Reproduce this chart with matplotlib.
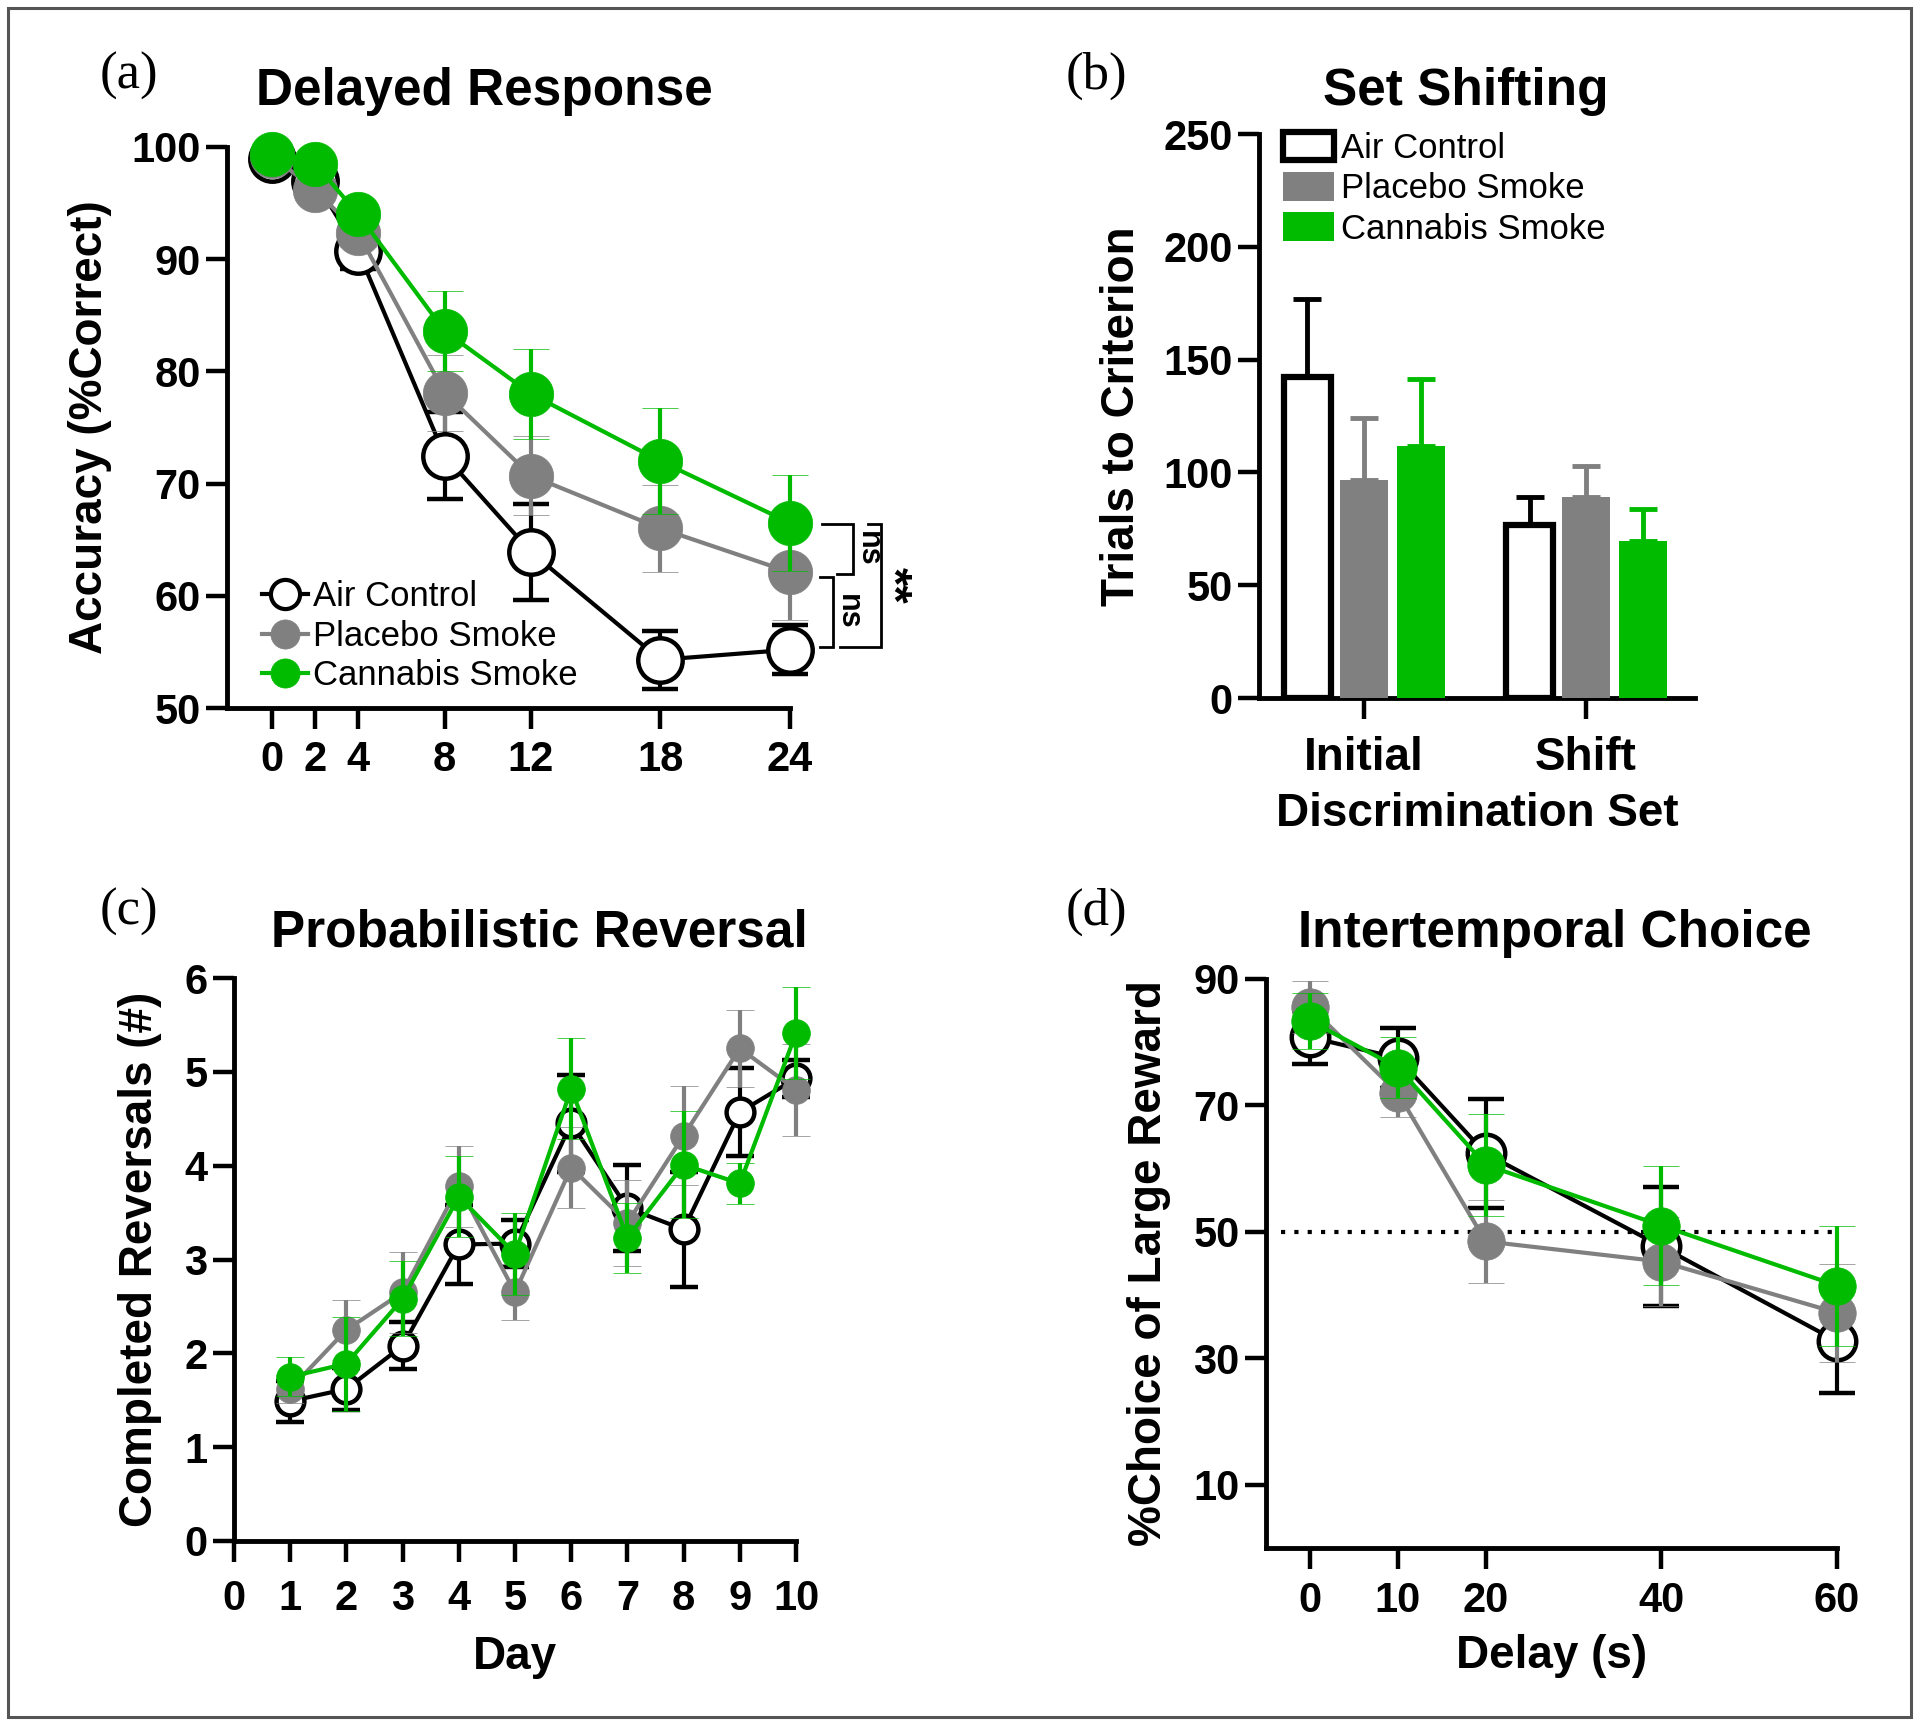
import numpy as np
import matplotlib
matplotlib.use("Agg")
import matplotlib.pyplot as plt
from matplotlib.patches import Rectangle
from matplotlib.lines import Line2D

plt.rcParams['font.family'] = ['Liberation Sans', 'DejaVu Sans']
plt.rcParams['font.weight'] = 'bold'

# ---------------- data ----------------
groups = ["Air Control", "Placebo Smoke", "Cannabis Smoke"]
BLACK = "#000000"
GREY = "#808080"
GREEN = "#00BB00"

# (a) Delayed Response
hours = [0, 2, 4, 8, 12, 18, 24]
air_a = [98.9, 97.0, 90.7, 72.5, 63.9, 54.3, 55.2]
air_a_err = [0.8, 1.0, 1.6, 3.9, 4.3, 2.6, 2.2]
plac_a = [99.2, 96.2, 92.3, 78.1, 70.7, 66.0, 62.1]
plac_a_err = [0.6, 1.0, 1.2, 3.4, 3.5, 3.9, 4.3]
cann_a = [99.4, 98.5, 94.0, 83.6, 78.0, 72.0, 66.5]
cann_a_err = [0.5, 0.8, 1.0, 3.6, 4.0, 4.7, 4.3]
a_xticks = [0, 2, 4, 8, 12, 18, 24]
a_yticks = [50, 60, 70, 80, 90, 100]
# significance brackets: (x_vertical, y_top, y_bottom, x_left_top, x_left_bottom, text, text_x)
brackets = [
    (26.9, 66.4, 61.9, 25.5, 26.2, "ns", 27.6),
    (26.0, 61.7, 55.4, 25.4, 25.4, "ns", 26.7),
    (28.2, 66.4, 55.4, 27.6, 26.3, "**", 28.7),
]

# (b) Set Shifting
sets = ["Initial", "Shift"]
air_b = [142.3, 76.8]
air_b_err = [34.5, 12.2]
plac_b = [96.8, 89.3]
plac_b_err = [27.2, 13.4]
cann_b = [111.9, 69.8]
cann_b_err = [29.4, 13.9]
b_yticks = [0, 50, 100, 150, 200, 250]

# (c) Probabilistic Reversal
days = [1, 2, 3, 4, 5, 6, 7, 8, 9, 10]
air_c = [1.49, 1.62, 2.08, 3.16, 3.17, 4.45, 3.55, 3.32, 4.57, 4.93]
air_c_err = [0.22, 0.22, 0.25, 0.42, 0.25, 0.52, 0.46, 0.61, 0.47, 0.2]
plac_c = [1.62, 2.25, 2.65, 3.78, 2.65, 3.98, 3.39, 4.32, 5.25, 4.81]
plac_c_err = [0.15, 0.32, 0.43, 0.43, 0.30, 0.43, 0.46, 0.53, 0.41, 0.49]
cann_c = [1.75, 1.89, 2.58, 3.67, 3.06, 4.82, 3.23, 4.01, 3.81, 5.41]
cann_c_err = [0.21, 0.50, 0.40, 0.43, 0.44, 0.54, 0.37, 0.57, 0.22, 0.49]
c_xticks = list(range(0, 11))
c_yticks = [0, 1, 2, 3, 4, 5, 6]

# (d) Intertemporal Choice
delays = [0, 10, 20, 40, 60]
air_d = [80.8, 77.5, 62.4, 47.7, 32.7]
air_d_err = [4.2, 4.8, 8.6, 9.4, 8.2]
plac_d = [85.6, 72.0, 48.5, 45.3, 37.2]
plac_d_err = [4.1, 3.9, 6.6, 7.0, 7.8]
cann_d = [83.4, 76.0, 60.6, 51.0, 41.5]
cann_d_err = [4.4, 4.9, 8.1, 9.4, 9.5]
d_xticks = [0, 10, 20, 40, 60]
d_yticks = [10, 30, 50, 70, 90]
chance_level = 50

# ---------------- style ----------------
TICK_FS = 30
LABEL_FS = 33
TITLE_FS = 37
LEG_FS = 25
SPINE_LW = 3.5

fig = plt.figure(figsize=(19.2, 17.28), dpi=100)
W, H = 1920.0, 1728.0


def add_axes_px(left, right, top, bottom):
    return fig.add_axes([left / W, 1 - bottom / H, (right - left) / W, (bottom - top) / H])


def style_axes(ax):
    for s in ("top", "right"):
        ax.spines[s].set_visible(False)
    for s in ("left", "bottom"):
        ax.spines[s].set_linewidth(SPINE_LW)
        ax.spines[s].set_capstyle("projecting")
    ax.tick_params(axis="both", which="major", length=15, width=3.2,
                   labelsize=TICK_FS, direction="out")
    for lab in ax.get_xticklabels() + ax.get_yticklabels():
        lab.set_fontweight("bold")


def line_series(ax, x, y, err, color, face, ms, lw, cap, z, label):
    ax.errorbar(x, y, yerr=err, fmt="-o", color=color, ecolor=color,
                markerfacecolor=face, markeredgecolor=color, markersize=ms,
                markeredgewidth=3.2 if face == "white" else 0.5,
                linewidth=lw, elinewidth=3, capsize=cap, capthick=3,
                zorder=z, label=label, clip_on=False)


# ---------------- (a) ----------------
axa = add_axes_px(227, 790, 147, 708)
series_a = [(air_a, air_a_err, BLACK, "white"),
            (plac_a, plac_a_err, GREY, GREY),
            (cann_a, cann_a_err, GREEN, GREEN)]
for i, (y, e, c, f) in enumerate(series_a):
    line_series(axa, hours, y, e, c, f, 32, 3, 13, 3 + i, groups[i])
axa.set_xlim(-2.08, 24)
axa.set_ylim(50, 100)
axa.set_xticks(a_xticks)
axa.set_yticks(a_yticks)
style_axes(axa)
axa.tick_params(axis="x", pad=8)
axa.tick_params(axis="y", pad=4)
axa.set_ylabel("Accuracy (%Correct)", fontsize=LABEL_FS, fontweight="bold", labelpad=14)
leg_handles = []
for (y, e, c, f) in series_a:
    leg_handles.append(Line2D([], [], color=c, lw=3, marker="o", markersize=21,
                              markerfacecolor=f, markeredgecolor=c,
                              markeredgewidth=3 if f == "white" else 0.5))
leg = axa.legend(leg_handles, groups, loc="center left", bbox_to_anchor=(0.032, 0.128),
                 frameon=False, fontsize=LEG_FS, handlelength=1.3, handletextpad=0.15,
                 labelspacing=0.18, borderpad=0)
for t in leg.get_texts():
    t.set_fontweight("normal")
for (xv, yt, yb, xlt, xlb, txt, tx) in brackets:
    axa.plot([xlt, xv, xv, xlb], [yt, yt, yb, yb], color="black", lw=2,
             clip_on=False, solid_joinstyle="miter")
    axa.text(tx, (yt + yb) / 2, txt, rotation=-90, ha="center", va="center",
             fontsize=22 if txt == "ns" else 34, fontweight="bold", clip_on=False)

# ---------------- (b) ----------------
axb = add_axes_px(1259, 1695, 134, 698)
xb = np.arange(len(sets))
offs = [-0.255, 0.0, 0.255]
bw = 0.215
bar_series = [(air_b, air_b_err, "white", BLACK, 4.5),
              (plac_b, plac_b_err, GREY, GREY, 0),
              (cann_b, cann_b_err, GREEN, GREEN, 0)]
for i, (v, e, fc, ec, lw) in enumerate(bar_series):
    axb.errorbar(xb + offs[i], v, yerr=[np.zeros(len(v)), e], fmt="none",
                 ecolor=ec, elinewidth=3.5, capsize=10, capthick=3.5, zorder=2)
    axb.bar(xb + offs[i], v, width=bw, facecolor=fc, edgecolor=ec if lw else fc,
            linewidth=lw, zorder=3, label=groups[i])
axb.set_xlim(-0.473, 1.49)
axb.set_ylim(0, 250)
axb.set_yticks(b_yticks)
axb.set_xticks(xb)
axb.set_xticklabels(sets)
style_axes(axb)
axb.tick_params(axis="x", labelsize=LABEL_FS, pad=12)
axb.tick_params(axis="y", pad=4)
for lab in axb.get_xticklabels():
    lab.set_fontweight("bold")
axb.set_xlabel("Discrimination Set", fontsize=LABEL_FS, fontweight="bold", labelpad=9)
axb.set_ylabel("Trials to Criterion", fontsize=LABEL_FS, fontweight="bold", labelpad=14)
legb = axb.legend(loc="upper left", bbox_to_anchor=(0.016, 1.035), frameon=False,
                  fontsize=LEG_FS, handlelength=1.45, handleheight=0.9,
                  handletextpad=0.2, labelspacing=0.2, borderpad=0)
for t in legb.get_texts():
    t.set_fontweight("normal")

# ---------------- (c) ----------------
axc = add_axes_px(234, 796, 978, 1541)
series_c = [(air_c, air_c_err, BLACK, "white"),
            (plac_c, plac_c_err, GREY, GREY),
            (cann_c, cann_c_err, GREEN, GREEN)]
for i, (y, e, c, f) in enumerate(series_c):
    line_series(axc, days, y, e, c, f, 20, 3, 10, 3 + i, groups[i])
axc.set_xlim(0, 10)
axc.set_ylim(0, 6)
axc.set_xticks(c_xticks)
axc.set_yticks(c_yticks)
style_axes(axc)
axc.tick_params(axis="x", pad=12)
axc.tick_params(axis="y", pad=4)
axc.set_xlabel("Day", fontsize=LABEL_FS, fontweight="bold", labelpad=12)
axc.set_ylabel("Completed Reversals (#)", fontsize=LABEL_FS, fontweight="bold", labelpad=16)

# ---------------- (d) ----------------
axd = add_axes_px(1266, 1837, 979, 1548)
axd.hlines(chance_level, -3.3, 60, colors="black", linestyles=(0, (1, 2.2)),
           linewidth=3, zorder=1)
series_d = [(air_d, air_d_err, BLACK, "white"),
            (plac_d, plac_d_err, GREY, GREY),
            (cann_d, cann_d_err, GREEN, GREEN)]
for i, (y, e, c, f) in enumerate(series_d):
    line_series(axd, delays, y, e, c, f, 27, 3, 13, 3 + i, groups[i])
axd.set_xlim(-5, 60)
axd.set_ylim(0, 90)
axd.set_xticks(d_xticks)
axd.set_yticks(d_yticks)
style_axes(axd)
axd.tick_params(axis="x", pad=9)
axd.tick_params(axis="y", pad=4)
axd.set_xlabel("Delay (s)", fontsize=LABEL_FS, fontweight="bold", labelpad=9)
axd.set_ylabel("%Choice of Large Reward", fontsize=LABEL_FS, fontweight="bold", labelpad=16)

# ---------------- titles & panel labels ----------------
titles = [("Delayed Response", 484, 92), ("Set Shifting", 1466, 92),
          ("Probabilistic Reversal", 539, 933), ("Intertemporal Choice", 1555, 933)]
for t, x, y in titles:
    fig.text(x / W, 1 - y / H, t, ha="center", va="center",
             fontsize=TITLE_FS, fontweight="bold")
plabels = [("(a)", 129, 76), ("(b)", 1096, 76), ("(c)", 129, 912), ("(d)", 1096, 912)]
for t, x, y in plabels:
    fig.text(x / W, 1 - y / H, t, ha="center", va="center", fontsize=38,
             fontweight="normal", family=["Liberation Serif", "DejaVu Serif"])

# outer border
fig.patches.append(Rectangle((8 / W, 1 - 1717 / H), 1903 / W, 1709 / H,
                             transform=fig.transFigure, fill=False,
                             edgecolor="#555555", linewidth=2.2))

fig.savefig("out.png", dpi=100)
